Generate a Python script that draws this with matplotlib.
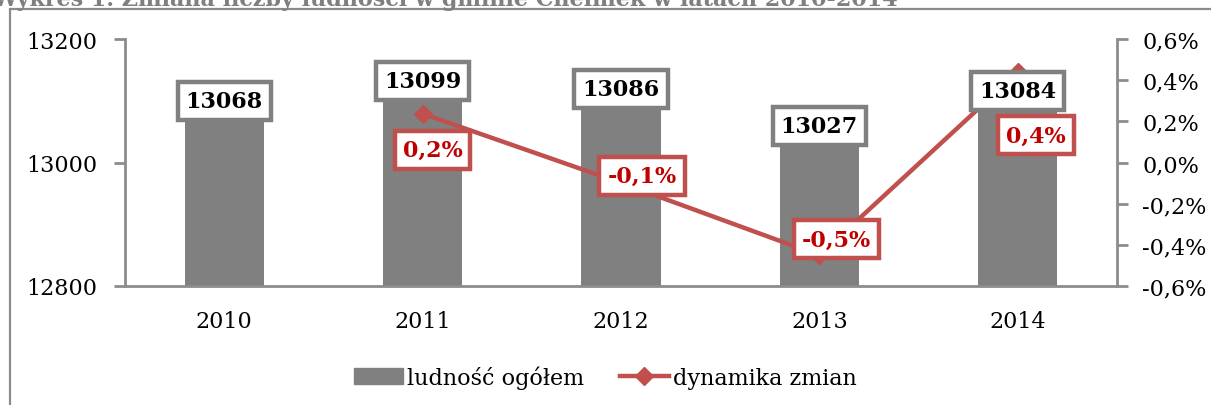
import matplotlib.pyplot as plt
from matplotlib.patches import Rectangle
from matplotlib.lines import Line2D
from matplotlib.patches import Patch

years = ["2010", "2011", "2012", "2013", "2014"]
population = [13068, 13099, 13086, 13027, 13084]
change_years = ["2011", "2012", "2013", "2014"]
change_pct = [0.237, -0.099, -0.451, 0.438]
change_labels = ["0,2%", "-0,1%", "-0,5%", "0,4%"]
left_ticks = [12800, 13000, 13200]
right_ticks = [-0.6, -0.4, -0.2, 0.0, 0.2, 0.4, 0.6]
right_tick_labels = ["-0,6%", "-0,4%", "-0,2%", "0,0%", "0,2%", "0,4%", "0,6%"]

# label offsets for the percent boxes (pixels)
pct_offsets = [(10, -36), (21, 7), (17, 16), (18, -63)]

W, H = 1211, 406
plt.rcParams['font.family'] = ['DejaVu Serif']
fig = plt.figure(figsize=(W / 100, H / 100), dpi=100)

bar_col = "#808080"
red = "#C0504D"
axis_col = "#8c8c8c"
fs = 16

ax = fig.add_axes([125 / W, 1 - 287 / H, (1117 - 125) / W, (287 - 40) / H])
x = list(range(len(years)))
ax.bar(x, [p - left_ticks[0] for p in population], bottom=left_ticks[0],
       width=0.4, color=bar_col, zorder=2)
ax.set_xlim(-0.5, len(years) - 0.5)
ax.set_ylim(left_ticks[0], left_ticks[-1])
ax.set_yticks(left_ticks)
ax.set_xticks(x)
ax.set_xticklabels(years)
ax.tick_params(axis='y', labelsize=fs, length=8, width=2, color=axis_col, pad=12)
ax.tick_params(axis='x', labelsize=fs, length=0, pad=17)
for s in ["top", "right"]:
    ax.spines[s].set_visible(False)
for s in ["left", "bottom"]:
    ax.spines[s].set_color(axis_col)
    ax.spines[s].set_linewidth(2)

ax2 = ax.twinx()
xc = [years.index(y) for y in change_years]
ax2.plot(xc, change_pct, color=red, lw=3.2, marker='D', ms=9, zorder=3)
ax2.set_ylim(right_ticks[0], right_ticks[-1])
ax2.set_yticks(right_ticks)
ax2.set_yticklabels(right_tick_labels)
ax2.tick_params(axis='y', labelsize=fs, length=8, width=2, color=axis_col, pad=10)
for s in ["top", "left", "bottom"]:
    ax2.spines[s].set_visible(False)
ax2.spines["right"].set_color(axis_col)
ax2.spines["right"].set_linewidth(2)

# bar value boxes drawn on the twin axes so they sit over the line
for xi, p in zip(x, population):
    ax2.annotate(str(p), (xi, p), xycoords=ax.transData, xytext=(0, 20),
                 textcoords='offset pixels', ha='center', va='center',
                 fontsize=fs, fontweight='bold', color='black', zorder=5,
                 bbox=dict(boxstyle='square,pad=0.36', fc='white',
                           ec=bar_col, lw=3.2))

for xi, v, lab, off in zip(xc, change_pct, change_labels, pct_offsets):
    ax2.annotate(lab, (xi, v), xytext=off, textcoords='offset pixels',
                 ha='center', va='center', fontsize=fs, fontweight='bold',
                 color='#C00000', zorder=6,
                 bbox=dict(boxstyle='square,pad=0.36', fc='white',
                           ec=red, lw=3.2))

handles = [Patch(color=bar_col, label="ludność ogółem"),
           Line2D([0], [0], color=red, lw=3.2, marker='D', ms=9,
                  label="dynamika zmian")]
fig.legend(handles=handles, loc='center', bbox_to_anchor=(0.5, 1 - 378 / H),
           ncol=2, frameon=False, fontsize=fs, handlelength=2.2,
           handletextpad=0.2, columnspacing=1.6)

# outer chart frame and the cut-off caption
fig.add_artist(Rectangle((10 / W, -0.2), 1.2, 1.2 - 10 / H,
                         transform=fig.transFigure, fill=False,
                         ec="#8c8c8c", lw=1.6))
fig.text(-8 / W, 1 - 6 / H, "Wykres 1. Zmiana liczby ludności w gminie Chełmek w latach 2010-2014",
         fontsize=16, fontweight='bold', color="#7f7f7f", va='baseline', ha='left')

fig.savefig("out.png", dpi=100)
